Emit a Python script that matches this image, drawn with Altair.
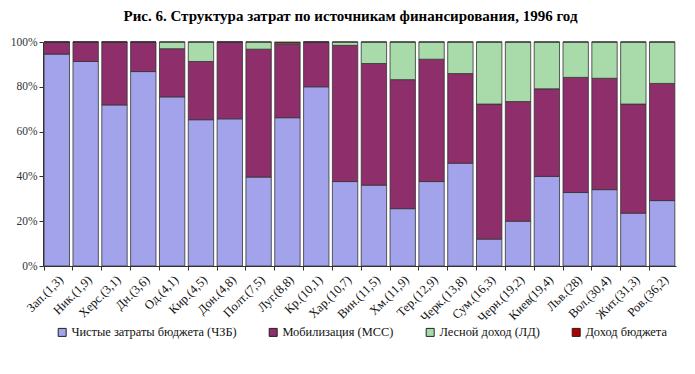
import altair as alt
import pandas as pd

regions = ["Зап.(1,3)", "Ник.(1,9)", "Херс.(3,1)", "Дн.(3,6)", "Од.(4,1)", "Кир.(4,5)",
           "Дон.(4,8)", "Полт.(7,5)", "Луг.(8,8)", "Кр.(10,1)", "Хар.(10,7)", "Вин.(11,5)",
           "Хм.(11,9)", "Тер.(12,9)", "Черк.(13,8)", "Сум.(16,3)", "Черн.(19,2)", "Киев(19,4)",
           "Льв.(28)", "Вол.(30,4)", "Жит.(31,3)", "Ров.(36,2)"]

series = ["Чистые затраты бюджета (ЧЗБ)", "Мобилизация (МСС)", "Лесной доход (ЛД)", "Доход бюджета"]

budget_net = [94.6, 91.3, 71.9, 86.8, 75.5, 65.3, 65.7, 39.7, 66.2, 80.0, 37.7,
              36.1, 25.6, 37.7, 45.9, 12.0, 20.0, 40.0, 32.8, 34.1, 23.6, 29.2]
mobilization = [5.4, 8.7, 28.1, 13.2, 21.5, 26.0, 34.3, 57.1, 32.7, 20.0, 60.8,
                54.3, 57.6, 54.6, 40.0, 60.3, 53.4, 39.1, 51.4, 49.7, 48.7, 52.3]
forest_income = [0.0, 0.0, 0.0, 0.0, 3.0, 8.7, 0.0, 3.2, 0.6, 0.0, 1.5,
                 9.6, 16.8, 7.7, 14.1, 27.7, 26.6, 20.9, 15.8, 16.2, 27.7, 18.5]
budget_income = [0.0, 0.0, 0.0, 0.0, 0.0, 0.0, 0.0, 0.0, 0.5, 0.0, 0.0,
                 0.0, 0.0, 0.0, 0.0, 0.0, 0.0, 0.0, 0.0, 0.0, 0.0, 0.0]

colors = ["#A3A3EC", "#8E2F6B", "#A9DAA9", "#B00000"]

rows = []
for i, r in enumerate(regions):
    for k, vals in enumerate([budget_net, mobilization, forest_income, budget_income]):
        rows.append({"region": r, "series": series[k], "order": k, "value": vals[i]})
df = pd.DataFrame(rows)

font = "Liberation Serif"

chart = alt.Chart(df).mark_bar(stroke="#333333", strokeWidth=0.8).encode(
    x=alt.X("region:N", sort=regions, title=None,
            scale=alt.Scale(paddingInner=0.12, paddingOuter=0.04),
            axis=alt.Axis(labelAngle=-45, labelFont=font, labelFontSize=12.5,
                          labelColor="#111111", bandPosition=0, domainColor="#333333",
                          tickColor="#333333", tickSize=4, labelPadding=3)),
    y=alt.Y("value:Q", stack="normalize", title=None,
            scale=alt.Scale(domain=[0, 1]),
            axis=alt.Axis(format=".0%", values=[0, 0.2, 0.4, 0.6, 0.8, 1.0], grid=False,
                          labelFont=font, labelFontSize=11.5, labelColor="#333333",
                          domainColor="#333333", tickColor="#333333", tickSize=4)),
    color=alt.Color("series:N", sort=series,
                    scale=alt.Scale(domain=series, range=colors),
                    legend=alt.Legend(title=None, orient="none", direction="horizontal",
                                      legendX=13, legendY=284, symbolType="square",
                                      symbolSize=64, symbolStrokeColor="#222222",
                                      symbolStrokeWidth=1, labelFont=font, labelFontSize=12.4,
                                      labelColor="#111111", columnPadding=30, padding=0,
                                      labelOffset=3, labelLimit=0)),
    order=alt.Order("order:Q", sort="ascending"),
).properties(
    width=633, height=224,
    title=alt.TitleParams("Рис. 6. Структура затрат по источникам финансирования, 1996 год",
                          font=font, fontSize=15, fontWeight="bold", color="#000000",
                          anchor="middle", offset=12, dx=-9),
    autosize=alt.AutoSizeParams(type="none"),
    padding={"left": 35, "top": 34, "right": 11, "bottom": 100},
).configure_view(stroke=None)

chart.save("out.html", embed_options={"renderer": "svg", "actions": False})
